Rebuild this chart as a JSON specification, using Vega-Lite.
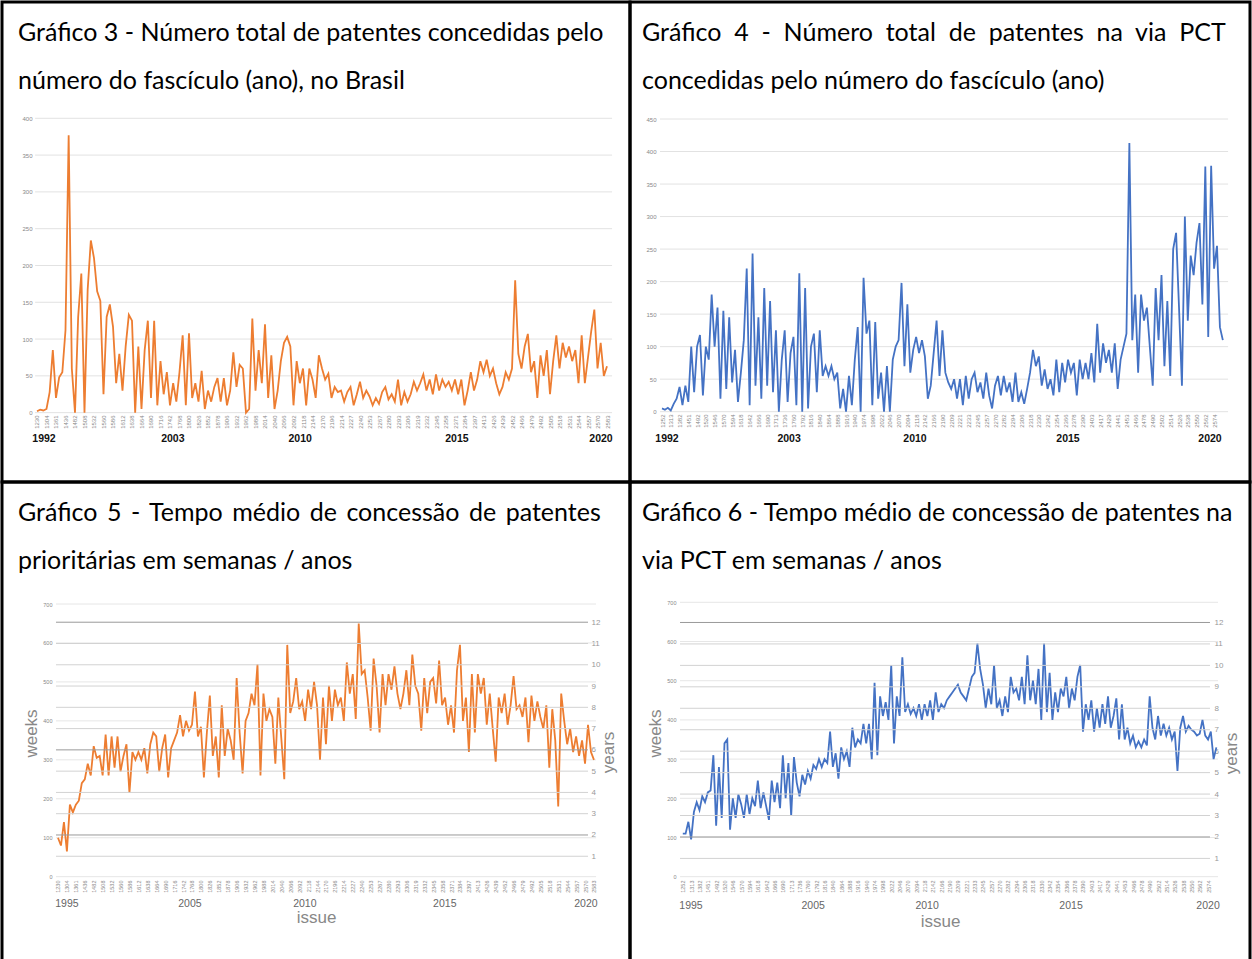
{
"$schema": "https://vega.github.io/schema/vega-lite/v6.json",
"padding": 0,
"background": "white",
"config": {"view": {"stroke": "black", "strokeWidth": 3}, "font": "Liberation Sans"},
"datasets": {
"g400": [{"g":0},{"g":50},{"g":100},{"g":150},{"g":200},{"g":250},{"g":300},{"g":350},{"g":400}],
"g450": [{"g":0},{"g":50},{"g":100},{"g":150},{"g":200},{"g":250},{"g":300},{"g":350},{"g":400},{"g":450}],
"g700": [{"g":0},{"g":100},{"g":200},{"g":300},{"g":400},{"g":500},{"g":600},{"g":700}],
"yrs": [{"yr":1},{"yr":2},{"yr":3},{"yr":4},{"yr":5},{"yr":6},{"yr":7},{"yr":8},{"yr":9},{"yr":10},{"yr":11},{"yr":12}],
"yl1": [{"pos":2.2,"year":"1992"},{"pos":42.9,"year":"2003"},{"pos":83.1,"year":"2010"},{"pos":132.6,"year":"2015"},{"pos":178.1,"year":"2020"}],
"yl2": [{"pos":1.7,"year":"1992"},{"pos":43.5,"year":"2003"},{"pos":86.6,"year":"2010"},{"pos":139,"year":"2015"},{"pos":187.6,"year":"2020"}],
"yl3": [{"pos":3.0,"year":"1995"},{"pos":44.3,"year":"2005"},{"pos":82.9,"year":"2010"},{"pos":129.9,"year":"2015"},{"pos":177.3,"year":"2020"}],
"yl4": [{"pos":2.95,"year":"1995"},{"pos":46.9,"year":"2005"},{"pos":87.9,"year":"2010"},{"pos":139.7,"year":"2015"},{"pos":189,"year":"2020"}],
"c1": [{"i":0,"v":2},{"i":1,"v":4},{"i":2,"v":3},{"i":3,"v":5},{"i":4,"v":28},{"i":5,"v":85},{"i":6,"v":20},{"i":7,"v":48},{"i":8,"v":55},{"i":9,"v":112},
{"i":10,"v":377},{"i":11,"v":60},{"i":12,"v":0},{"i":13,"v":130},{"i":14,"v":189},{"i":15,"v":0},{"i":16,"v":167},{"i":17,"v":234},{"i":18,"v":210},{"i":19,"v":165},
{"i":20,"v":152},{"i":21,"v":25},{"i":22,"v":130},{"i":23,"v":147},{"i":24,"v":117},{"i":25,"v":40},{"i":26,"v":80},{"i":27,"v":30},{"i":28,"v":90},{"i":29,"v":133},
{"i":30,"v":125},{"i":31,"v":0},{"i":32,"v":90},{"i":33,"v":5},{"i":34,"v":85},{"i":35,"v":125},{"i":36,"v":20},{"i":37,"v":125},{"i":38,"v":10},{"i":39,"v":70},
{"i":40,"v":25},{"i":41,"v":55},{"i":42,"v":10},{"i":43,"v":40},{"i":44,"v":15},{"i":45,"v":55},{"i":46,"v":105},{"i":47,"v":10},{"i":48,"v":108},{"i":49,"v":20},
{"i":50,"v":40},{"i":51,"v":15},{"i":52,"v":57},{"i":53,"v":5},{"i":54,"v":30},{"i":55,"v":15},{"i":56,"v":35},{"i":57,"v":47},{"i":58,"v":15},{"i":59,"v":47},
{"i":60,"v":10},{"i":61,"v":30},{"i":62,"v":82},{"i":63,"v":35},{"i":64,"v":65},{"i":65,"v":60},{"i":66,"v":0},{"i":67,"v":5},{"i":68,"v":128},{"i":69,"v":30},
{"i":70,"v":85},{"i":71,"v":40},{"i":72,"v":120},{"i":73,"v":20},{"i":74,"v":78},{"i":75,"v":5},{"i":76,"v":30},{"i":77,"v":70},{"i":78,"v":95},{"i":79,"v":103},
{"i":80,"v":90},{"i":81,"v":10},{"i":82,"v":70},{"i":83,"v":40},{"i":84,"v":60},{"i":85,"v":10},{"i":86,"v":60},{"i":87,"v":45},{"i":88,"v":20},{"i":89,"v":78},
{"i":90,"v":60},{"i":91,"v":45},{"i":92,"v":53},{"i":93,"v":20},{"i":94,"v":35},{"i":95,"v":28},{"i":96,"v":30},{"i":97,"v":15},{"i":98,"v":28},{"i":99,"v":35},
{"i":100,"v":10},{"i":101,"v":25},{"i":102,"v":42},{"i":103,"v":20},{"i":104,"v":30},{"i":105,"v":22},{"i":106,"v":10},{"i":107,"v":20},{"i":108,"v":12},{"i":109,"v":28},
{"i":110,"v":35},{"i":111,"v":18},{"i":112,"v":25},{"i":113,"v":15},{"i":114,"v":45},{"i":115,"v":10},{"i":116,"v":28},{"i":117,"v":15},{"i":118,"v":25},{"i":119,"v":42},
{"i":120,"v":30},{"i":121,"v":40},{"i":122,"v":52},{"i":123,"v":30},{"i":124,"v":45},{"i":125,"v":25},{"i":126,"v":52},{"i":127,"v":30},{"i":128,"v":45},{"i":129,"v":35},
{"i":130,"v":42},{"i":131,"v":30},{"i":132,"v":45},{"i":133,"v":25},{"i":134,"v":45},{"i":135,"v":10},{"i":136,"v":30},{"i":137,"v":55},{"i":138,"v":30},{"i":139,"v":45},
{"i":140,"v":70},{"i":141,"v":55},{"i":142,"v":72},{"i":143,"v":50},{"i":144,"v":60},{"i":145,"v":40},{"i":146,"v":25},{"i":147,"v":35},{"i":148,"v":55},{"i":149,"v":45},
{"i":150,"v":60},{"i":151,"v":180},{"i":152,"v":80},{"i":153,"v":60},{"i":154,"v":90},{"i":155,"v":107},{"i":156,"v":55},{"i":157,"v":70},{"i":158,"v":20},{"i":159,"v":78},
{"i":160,"v":50},{"i":161,"v":85},{"i":162,"v":25},{"i":163,"v":70},{"i":164,"v":105},{"i":165,"v":60},{"i":166,"v":95},{"i":167,"v":75},{"i":168,"v":90},{"i":169,"v":70},
{"i":170,"v":85},{"i":171,"v":40},{"i":172,"v":105},{"i":173,"v":40},{"i":174,"v":75},{"i":175,"v":110},{"i":176,"v":140},{"i":177,"v":60},{"i":178,"v":95},{"i":179,"v":50},
{"i":180,"v":63}],
"c2": [{"i":0,"v":5},{"i":1,"v":3},{"i":2,"v":6},{"i":3,"v":2},{"i":4,"v":12},{"i":5,"v":20},{"i":6,"v":38},{"i":7,"v":10},{"i":8,"v":40},{"i":9,"v":15},
{"i":10,"v":100},{"i":11,"v":30},{"i":12,"v":100},{"i":13,"v":118},{"i":14,"v":25},{"i":15,"v":100},{"i":16,"v":80},{"i":17,"v":180},{"i":18,"v":100},{"i":19,"v":160},
{"i":20,"v":20},{"i":21,"v":155},{"i":22,"v":35},{"i":23,"v":145},{"i":24,"v":45},{"i":25,"v":95},{"i":26,"v":15},{"i":27,"v":60},{"i":28,"v":110},{"i":29,"v":220},
{"i":30,"v":10},{"i":31,"v":243},{"i":32,"v":40},{"i":33,"v":145},{"i":34,"v":20},{"i":35,"v":190},{"i":36,"v":40},{"i":37,"v":170},{"i":38,"v":30},{"i":39,"v":125},
{"i":40,"v":0},{"i":41,"v":80},{"i":42,"v":125},{"i":43,"v":15},{"i":44,"v":90},{"i":45,"v":115},{"i":46,"v":10},{"i":47,"v":213},{"i":48,"v":0},{"i":49,"v":190},
{"i":50,"v":5},{"i":51,"v":100},{"i":52,"v":120},{"i":53,"v":30},{"i":54,"v":125},{"i":55,"v":55},{"i":56,"v":70},{"i":57,"v":55},{"i":58,"v":70},{"i":59,"v":50},
{"i":60,"v":60},{"i":61,"v":5},{"i":62,"v":35},{"i":63,"v":0},{"i":64,"v":55},{"i":65,"v":10},{"i":66,"v":80},{"i":67,"v":130},{"i":68,"v":0},{"i":69,"v":206},
{"i":70,"v":120},{"i":71,"v":140},{"i":72,"v":10},{"i":73,"v":138},{"i":74,"v":20},{"i":75,"v":60},{"i":76,"v":0},{"i":77,"v":70},{"i":78,"v":0},{"i":79,"v":80},
{"i":80,"v":100},{"i":81,"v":110},{"i":82,"v":198},{"i":83,"v":70},{"i":84,"v":165},{"i":85,"v":60},{"i":86,"v":95},{"i":87,"v":115},{"i":88,"v":90},{"i":89,"v":110},
{"i":90,"v":85},{"i":91,"v":20},{"i":92,"v":40},{"i":93,"v":90},{"i":94,"v":140},{"i":95,"v":55},{"i":96,"v":125},{"i":97,"v":60},{"i":98,"v":45},{"i":99,"v":35},
{"i":100,"v":50},{"i":101,"v":20},{"i":102,"v":50},{"i":103,"v":10},{"i":104,"v":55},{"i":105,"v":20},{"i":106,"v":50},{"i":107,"v":60},{"i":108,"v":30},{"i":109,"v":45},
{"i":110,"v":20},{"i":111,"v":60},{"i":112,"v":25},{"i":113,"v":5},{"i":114,"v":40},{"i":115,"v":55},{"i":116,"v":25},{"i":117,"v":55},{"i":118,"v":30},{"i":119,"v":45},
{"i":120,"v":15},{"i":121,"v":60},{"i":122,"v":15},{"i":123,"v":30},{"i":124,"v":12},{"i":125,"v":35},{"i":126,"v":60},{"i":127,"v":95},{"i":128,"v":70},{"i":129,"v":85},
{"i":130,"v":40},{"i":131,"v":65},{"i":132,"v":35},{"i":133,"v":50},{"i":134,"v":25},{"i":135,"v":80},{"i":136,"v":30},{"i":137,"v":75},{"i":138,"v":45},{"i":139,"v":80},
{"i":140,"v":60},{"i":141,"v":75},{"i":142,"v":25},{"i":143,"v":80},{"i":144,"v":50},{"i":145,"v":75},{"i":146,"v":50},{"i":147,"v":90},{"i":148,"v":45},{"i":149,"v":135},
{"i":150,"v":60},{"i":151,"v":105},{"i":152,"v":75},{"i":153,"v":95},{"i":154,"v":60},{"i":155,"v":105},{"i":156,"v":35},{"i":157,"v":80},{"i":158,"v":100},{"i":159,"v":120},
{"i":160,"v":413},{"i":161,"v":110},{"i":162,"v":180},{"i":163,"v":60},{"i":164,"v":180},{"i":165,"v":140},{"i":166,"v":160},{"i":167,"v":100},{"i":168,"v":40},{"i":169,"v":190},
{"i":170,"v":110},{"i":171,"v":210},{"i":172,"v":70},{"i":173,"v":170},{"i":174,"v":55},{"i":175,"v":250},{"i":176,"v":275},{"i":177,"v":160},{"i":178,"v":40},{"i":179,"v":300},
{"i":180,"v":140},{"i":181,"v":240},{"i":182,"v":210},{"i":183,"v":260},{"i":184,"v":290},{"i":185,"v":165},{"i":186,"v":377},{"i":187,"v":115},{"i":188,"v":378},{"i":189,"v":220},
{"i":190,"v":255},{"i":191,"v":130},{"i":192,"v":110}],
"c3": [{"i":0,"v":100},{"i":1,"v":80},{"i":2,"v":140},{"i":3,"v":65},{"i":4,"v":185},{"i":5,"v":165},{"i":6,"v":185},{"i":7,"v":195},{"i":8,"v":240},{"i":9,"v":250},
{"i":10,"v":290},{"i":11,"v":260},{"i":12,"v":335},{"i":13,"v":305},{"i":14,"v":310},{"i":15,"v":260},{"i":16,"v":365},{"i":17,"v":260},{"i":18,"v":360},{"i":19,"v":280},
{"i":20,"v":360},{"i":21,"v":270},{"i":22,"v":310},{"i":23,"v":340},{"i":24,"v":215},{"i":25,"v":320},{"i":26,"v":300},{"i":27,"v":320},{"i":28,"v":300},{"i":29,"v":330},
{"i":30,"v":265},{"i":31,"v":340},{"i":32,"v":370},{"i":33,"v":360},{"i":34,"v":270},{"i":35,"v":330},{"i":36,"v":365},{"i":37,"v":255},{"i":38,"v":330},{"i":39,"v":350},
{"i":40,"v":370},{"i":41,"v":415},{"i":42,"v":360},{"i":43,"v":400},{"i":44,"v":375},{"i":45,"v":390},{"i":46,"v":475},{"i":47,"v":360},{"i":48,"v":385},{"i":49,"v":255},
{"i":50,"v":370},{"i":51,"v":465},{"i":52,"v":310},{"i":53,"v":360},{"i":54,"v":255},{"i":55,"v":440},{"i":56,"v":310},{"i":57,"v":380},{"i":58,"v":350},{"i":59,"v":300},
{"i":60,"v":510},{"i":61,"v":370},{"i":62,"v":265},{"i":63,"v":400},{"i":64,"v":420},{"i":65,"v":470},{"i":66,"v":440},{"i":67,"v":545},{"i":68,"v":260},{"i":69,"v":470},
{"i":70,"v":400},{"i":71,"v":430},{"i":72,"v":410},{"i":73,"v":290},{"i":74,"v":460},{"i":75,"v":355},{"i":76,"v":250},{"i":77,"v":595},{"i":78,"v":420},{"i":79,"v":450},
{"i":80,"v":510},{"i":81,"v":430},{"i":82,"v":450},{"i":83,"v":400},{"i":84,"v":480},{"i":85,"v":430},{"i":86,"v":500},{"i":87,"v":440},{"i":88,"v":300},{"i":89,"v":460},
{"i":90,"v":340},{"i":91,"v":490},{"i":92,"v":400},{"i":93,"v":480},{"i":94,"v":440},{"i":95,"v":460},{"i":96,"v":400},{"i":97,"v":550},{"i":98,"v":470},{"i":99,"v":520},
{"i":100,"v":405},{"i":101,"v":650},{"i":102,"v":520},{"i":103,"v":530},{"i":104,"v":460},{"i":105,"v":375},{"i":106,"v":560},{"i":107,"v":490},{"i":108,"v":370},{"i":109,"v":520},
{"i":110,"v":440},{"i":111,"v":520},{"i":112,"v":480},{"i":113,"v":540},{"i":114,"v":470},{"i":115,"v":430},{"i":116,"v":470},{"i":117,"v":530},{"i":118,"v":440},{"i":119,"v":570},
{"i":120,"v":490},{"i":121,"v":470},{"i":122,"v":375},{"i":123,"v":510},{"i":124,"v":420},{"i":125,"v":500},{"i":126,"v":510},{"i":127,"v":445},{"i":128,"v":555},{"i":129,"v":440},
{"i":130,"v":460},{"i":131,"v":390},{"i":132,"v":440},{"i":133,"v":370},{"i":134,"v":530},{"i":135,"v":595},{"i":136,"v":400},{"i":137,"v":460},{"i":138,"v":320},{"i":139,"v":520},
{"i":140,"v":370},{"i":141,"v":520},{"i":142,"v":470},{"i":143,"v":510},{"i":144,"v":390},{"i":145,"v":470},{"i":146,"v":380},{"i":147,"v":295},{"i":148,"v":460},{"i":149,"v":420},
{"i":150,"v":470},{"i":151,"v":390},{"i":152,"v":440},{"i":153,"v":515},{"i":154,"v":430},{"i":155,"v":440},{"i":156,"v":410},{"i":157,"v":460},{"i":158,"v":345},{"i":159,"v":465},
{"i":160,"v":400},{"i":161,"v":450},{"i":162,"v":410},{"i":163,"v":380},{"i":164,"v":440},{"i":165,"v":280},{"i":166,"v":430},{"i":167,"v":350},{"i":168,"v":180},{"i":169,"v":470},
{"i":170,"v":400},{"i":171,"v":340},{"i":172,"v":380},{"i":173,"v":320},{"i":174,"v":360},{"i":175,"v":310},{"i":176,"v":350},{"i":177,"v":290},{"i":178,"v":390},{"i":179,"v":320},
{"i":180,"v":300}],
"c4": [{"i":0,"v":110},{"i":1,"v":110},{"i":2,"v":140},{"i":3,"v":95},{"i":4,"v":165},{"i":5,"v":190},{"i":6,"v":170},{"i":7,"v":205},{"i":8,"v":190},{"i":9,"v":215},
{"i":10,"v":220},{"i":11,"v":310},{"i":12,"v":130},{"i":13,"v":280},{"i":14,"v":150},{"i":15,"v":340},{"i":16,"v":350},{"i":17,"v":120},{"i":18,"v":200},{"i":19,"v":150},
{"i":20,"v":210},{"i":21,"v":185},{"i":22,"v":150},{"i":23,"v":210},{"i":24,"v":160},{"i":25,"v":200},{"i":26,"v":180},{"i":27,"v":245},{"i":28,"v":175},{"i":29,"v":215},
{"i":30,"v":180},{"i":31,"v":145},{"i":32,"v":245},{"i":33,"v":190},{"i":34,"v":240},{"i":35,"v":175},{"i":36,"v":310},{"i":37,"v":200},{"i":38,"v":290},{"i":39,"v":155},
{"i":40,"v":305},{"i":41,"v":240},{"i":42,"v":205},{"i":43,"v":260},{"i":44,"v":235},{"i":45,"v":270},{"i":46,"v":250},{"i":47,"v":285},{"i":48,"v":275},{"i":49,"v":300},
{"i":50,"v":280},{"i":51,"v":300},{"i":52,"v":290},{"i":53,"v":370},{"i":54,"v":280},{"i":55,"v":315},{"i":56,"v":250},{"i":57,"v":330},{"i":58,"v":300},{"i":59,"v":320},
{"i":60,"v":280},{"i":61,"v":380},{"i":62,"v":330},{"i":63,"v":350},{"i":64,"v":340},{"i":65,"v":390},{"i":66,"v":340},{"i":67,"v":390},{"i":68,"v":300},{"i":69,"v":495},
{"i":70,"v":310},{"i":71,"v":460},{"i":72,"v":410},{"i":73,"v":445},{"i":74,"v":400},{"i":75,"v":540},{"i":76,"v":340},{"i":77,"v":460},{"i":78,"v":410},{"i":79,"v":560},
{"i":80,"v":420},{"i":81,"v":440},{"i":82,"v":415},{"i":83,"v":430},{"i":84,"v":410},{"i":85,"v":440},{"i":86,"v":400},{"i":87,"v":440},{"i":88,"v":410},{"i":89,"v":450},
{"i":90,"v":400},{"i":91,"v":470},{"i":92,"v":420},{"i":93,"v":440},{"i":94,"v":430},{"i":95,"v":450},{"i":96,"v":460},{"i":97,"v":470},{"i":98,"v":480},{"i":99,"v":490},
{"i":100,"v":470},{"i":101,"v":460},{"i":102,"v":450},{"i":103,"v":480},{"i":104,"v":510},{"i":105,"v":520},{"i":106,"v":595},{"i":107,"v":530},{"i":108,"v":490},{"i":109,"v":430},
{"i":110,"v":480},{"i":111,"v":440},{"i":112,"v":540},{"i":113,"v":430},{"i":114,"v":450},{"i":115,"v":410},{"i":116,"v":460},{"i":117,"v":420},{"i":118,"v":510},{"i":119,"v":470},
{"i":120,"v":480},{"i":121,"v":450},{"i":122,"v":510},{"i":123,"v":440},{"i":124,"v":565},{"i":125,"v":450},{"i":126,"v":500},{"i":127,"v":440},{"i":128,"v":530},{"i":129,"v":400},
{"i":130,"v":595},{"i":131,"v":420},{"i":132,"v":520},{"i":133,"v":400},{"i":134,"v":470},{"i":135,"v":420},{"i":136,"v":480},{"i":137,"v":460},{"i":138,"v":510},{"i":139,"v":430},
{"i":140,"v":480},{"i":141,"v":450},{"i":142,"v":510},{"i":143,"v":540},{"i":144,"v":370},{"i":145,"v":440},{"i":146,"v":400},{"i":147,"v":450},{"i":148,"v":370},{"i":149,"v":430},
{"i":150,"v":380},{"i":151,"v":440},{"i":152,"v":390},{"i":153,"v":460},{"i":154,"v":380},{"i":155,"v":410},{"i":156,"v":455},{"i":157,"v":350},{"i":158,"v":440},{"i":159,"v":350},
{"i":160,"v":380},{"i":161,"v":340},{"i":162,"v":360},{"i":163,"v":330},{"i":164,"v":345},{"i":165,"v":330},{"i":166,"v":350},{"i":167,"v":335},{"i":168,"v":460},{"i":169,"v":380},
{"i":170,"v":350},{"i":171,"v":410},{"i":172,"v":360},{"i":173,"v":390},{"i":174,"v":360},{"i":175,"v":380},{"i":176,"v":350},{"i":177,"v":370},{"i":178,"v":270},{"i":179,"v":380},
{"i":180,"v":410},{"i":181,"v":370},{"i":182,"v":385},{"i":183,"v":375},{"i":184,"v":370},{"i":185,"v":360},{"i":186,"v":365},{"i":187,"v":400},{"i":188,"v":360},{"i":189,"v":350},
{"i":190,"v":370},{"i":191,"v":300},{"i":192,"v":330}]
},
"columns": 2,
"spacing": 0,
"bounds": "flush",
"concat": [
{"width": 628, "height": 480,
 "title": {"text": ["Gráfico 3 - Número total de patentes concedidas pelo", "número do fascículo (ano), no Brasil"], "anchor": "start", "frame": "group", "offset": -92, "dx": 16, "font": "Lato", "fontSize": 25, "fontWeight": "normal", "color": "black", "lineHeight": 48},
 "resolve": {"axis": {"x": "independent", "y": "independent"}},
 "layer": [
  {"data": {"name": "g400"}, "mark": {"type": "rule", "color": "#e2e2e2", "strokeWidth": 1},
   "encoding": {
    "y": {"field": "g", "type": "quantitative", "scale": {"domain": [-94.2, 558], "nice": false, "zero": false},
          "axis": {"orient": "left", "values": [0,50,100,150,200,250,300,350,400], "title": null, "grid": false, "ticks": false, "domain": false, "labelFontSize": 6, "labelColor": "#888", "labelPadding": 0, "offset": -30}},
    "x": {"datum": -0.6, "type": "quantitative", "scale": {"domain": [-11.05, 187.26], "nice": false, "zero": false}, "axis": null},
    "x2": {"datum": 181.6}}},
  {"data": {"name": "c1"}, "mark": {"type": "line", "color": "#ED7D31", "strokeWidth": 1.8},
   "encoding": {
    "x": {"field": "i", "type": "quantitative", "scale": {"domain": [-11.05, 187.26], "nice": false, "zero": false},
          "axis": {"orient": "bottom", "values": [0,3,6,9,12,15,18,21,24,27,30,33,36,39,42,45,48,51,54,57,60,63,66,69,72,75,78,81,84,87,90,93,96,99,102,105,108,111,114,117,120,123,126,129,132,135,138,141,144,147,150,153,156,159,162,165,168,171,174,177,180],
                   "labelExpr": "['1230','1304','1361','1436','1482','1508','1532','1560','1586','1612','1638','1664','1690','1716','1742','1768','1800','1826','1852','1878','1906','1932','1962','1988','2014','2040','2066','2092','2118','2144','2170','2196','2214','2227','2240','2253','2267','2280','2293','2306','2319','2332','2345','2358','2371','2384','2397','2413','2426','2439','2452','2466','2479','2492','2505','2518','2531','2544','2557','2570','2583'][round(datum.value/3)]",
                   "labelAngle": 270, "labelFontSize": 6, "labelColor": "#888", "labelPadding": 2, "labelOverlap": false, "labelBound": false, "labelFlush": false, "ticks": false, "domain": false, "grid": false, "title": null, "offset": -69}},
    "y": {"field": "v", "type": "quantitative", "scale": {"domain": [-94.2, 558], "nice": false, "zero": false}, "axis": null}}},
  {"data": {"name": "yl1"}, "mark": {"type": "text", "fontWeight": "bold", "fontSize": 10.5, "color": "#111", "baseline": "middle"},
   "encoding": {
    "x": {"field": "pos", "type": "quantitative", "scale": {"domain": [-11.05, 187.26], "nice": false, "zero": false}, "axis": null},
    "y": {"datum": -36.4, "type": "quantitative", "scale": {"domain": [-94.2, 558], "nice": false, "zero": false}, "axis": null},
    "text": {"field": "year"}}}
 ]},
{"width": 620, "height": 480,
 "title": {"text": ["Gráfico\u00a0 4\u00a0 -\u00a0 Número\u00a0 total\u00a0 de\u00a0 patentes\u00a0 na\u00a0 via\u00a0 PCT", "concedidas pelo número do fascículo (ano)"], "anchor": "start", "frame": "group", "offset": -92, "dx": 12, "font": "Lato", "fontSize": 25, "fontWeight": "normal", "color": "black", "lineHeight": 48},
 "resolve": {"axis": {"x": "independent", "y": "independent"}},
 "layer": [
  {"data": {"name": "g450"}, "mark": {"type": "rule", "color": "#e2e2e2", "strokeWidth": 1},
   "encoding": {
    "y": {"field": "g", "type": "quantitative", "scale": {"domain": [-108.1, 629.9], "nice": false, "zero": false},
          "axis": {"orient": "left", "values": [0,50,100,150,200,250,300,350,400,450], "title": null, "grid": false, "ticks": false, "domain": false, "labelFontSize": 6, "labelColor": "#888", "labelPadding": 0, "offset": -26}},
    "x": {"datum": -0.7, "type": "quantitative", "scale": {"domain": [-10.96, 201.3], "nice": false, "zero": false}, "axis": null},
    "x2": {"datum": 193.8}}},
  {"data": {"name": "c2"}, "mark": {"type": "line", "color": "#4472C4", "strokeWidth": 1.8},
   "encoding": {
    "x": {"field": "i", "type": "quantitative", "scale": {"domain": [-10.96, 201.3], "nice": false, "zero": false},
          "axis": {"orient": "bottom", "values": [0,3,6,9,12,15,18,21,24,27,30,33,36,39,42,45,48,51,54,57,60,63,66,69,72,75,78,81,84,87,90,93,96,99,102,105,108,111,114,117,120,123,126,129,132,135,138,141,144,147,150,153,156,159,162,165,168,171,174,177,180,183,186,189],
                   "labelExpr": "['1252','1313','1382','1451','1492','1520','1546','1570','1594','1618','1642','1666','1690','1713','1736','1760','1792','1816','1840','1864','1888','1916','1940','1974','1998','2022','2046','2070','2094','2118','2142','2166','2190','2209','2221','2233','2245','2257','2270','2282','2294','2306','2318','2330','2342','2354','2366','2378','2390','2403','2417','2429','2441','2453','2466','2478','2490','2502','2514','2526','2538','2550','2562','2574'][round(datum.value/3)]",
                   "labelAngle": 270, "labelFontSize": 6, "labelColor": "#888", "labelPadding": 2, "labelOverlap": false, "labelBound": false, "labelFlush": false, "ticks": false, "domain": false, "grid": false, "title": null, "offset": -70}},
    "y": {"field": "v", "type": "quantitative", "scale": {"domain": [-108.1, 629.9], "nice": false, "zero": false}, "axis": null}}},
  {"data": {"name": "yl2"}, "mark": {"type": "text", "fontWeight": "bold", "fontSize": 10.5, "color": "#111", "baseline": "middle"},
   "encoding": {
    "x": {"field": "pos", "type": "quantitative", "scale": {"domain": [-10.96, 201.3], "nice": false, "zero": false}, "axis": null},
    "y": {"datum": -42, "type": "quantitative", "scale": {"domain": [-108.1, 629.9], "nice": false, "zero": false}, "axis": null},
    "text": {"field": "year"}}}
 ]},
{"width": 628, "height": 480,
 "title": {"text": ["Gráfico\u2009 5\u2009 -\u2009 Tempo\u2009 médio\u2009 de\u2009 concessão\u2009 de\u2009 patentes", "prioritárias em semanas / anos"], "anchor": "start", "frame": "group", "offset": -92, "dx": 16, "font": "Lato", "fontSize": 25, "fontWeight": "normal", "color": "black", "lineHeight": 48},
 "resolve": {"scale": {"y": "independent"}, "axis": {"x": "independent", "y": "independent"}},
 "layer": [
  {"resolve": {"axis": {"x": "independent", "y": "independent"}},
   "layer": [
   {"data": {"name": "g700"}, "mark": {"type": "rule", "color": "#e6e6e6", "strokeWidth": 1},
    "encoding": {
     "y": {"field": "g", "type": "quantitative", "scale": {"domain": [-219, 1013.2], "nice": false, "zero": false},
           "axis": {"orient": "left", "values": [0,100,200,300,400,500,600,700], "title": "weeks", "titleFontSize": 17, "titleColor": "#888", "titleFontWeight": "normal", "titlePadding": 2, "titleY": 251, "grid": false, "ticks": false, "domain": false, "labelFontSize": 5.5, "labelColor": "#888", "labelPadding": 0, "offset": -50}},
     "x": {"datum": -0.67, "type": "quantitative", "scale": {"domain": [-18.8, 192.1], "nice": false, "zero": false}, "axis": null},
     "x2": {"datum": 180.7}}},
   {"data": {"name": "c3"}, "mark": {"type": "line", "color": "#ED7D31", "strokeWidth": 1.8},
    "encoding": {
     "x": {"field": "i", "type": "quantitative", "scale": {"domain": [-18.8, 192.1], "nice": false, "zero": false},
           "axis": {"orient": "bottom", "values": [0,3,6,9,12,15,18,21,24,27,30,33,36,39,42,45,48,51,54,57,60,63,66,69,72,75,78,81,84,87,90,93,96,99,102,105,108,111,114,117,120,123,126,129,132,135,138,141,144,147,150,153,156,159,162,165,168,171,174,177,180],
                    "labelExpr": "['1230','1304','1361','1436','1482','1508','1532','1560','1586','1612','1638','1664','1690','1716','1742','1768','1800','1826','1852','1878','1906','1932','1962','1988','2014','2040','2066','2092','2118','2144','2170','2196','2214','2227','2240','2253','2267','2280','2293','2306','2319','2332','2345','2358','2371','2384','2397','2413','2426','2439','2452','2466','2479','2492','2505','2518','2531','2544','2557','2570','2583'][round(datum.value/3)]",
                    "labelAngle": 270, "labelFontSize": 5.5, "labelColor": "#888", "labelPadding": 3, "labelOverlap": false, "labelBound": false, "labelFlush": false, "ticks": false, "domain": false, "grid": false,
                    "title": "issue", "titleFontSize": 17, "titleColor": "#888", "titleFontWeight": "normal", "titlePadding": 17, "offset": -85}},
     "y": {"field": "v", "type": "quantitative", "scale": {"domain": [-219, 1013.2], "nice": false, "zero": false}, "axis": null}}},
   {"data": {"name": "yl3"}, "mark": {"type": "text", "fontSize": 10.5, "color": "#666", "baseline": "middle"},
    "encoding": {
     "x": {"field": "pos", "type": "quantitative", "scale": {"domain": [-18.8, 192.1], "nice": false, "zero": false}, "axis": null},
     "y": {"datum": -70, "type": "quantitative", "scale": {"domain": [-219, 1013.2], "nice": false, "zero": false}, "axis": null},
     "text": {"field": "year"}}}
  ]},
  {"data": {"name": "yrs"}, "mark": {"type": "rule", "strokeWidth": 1},
   "encoding": {
    "y": {"field": "yr", "type": "quantitative", "scale": {"domain": [-3.97, 18.59], "nice": false, "zero": false},
          "axis": {"orient": "right", "values": [1,2,3,4,5,6,7,8,9,10,11,12], "title": "years", "titleAngle": 270, "titleBaseline": "top", "titleFontSize": 17, "titleColor": "#888", "titleFontWeight": "normal", "titlePadding": 1, "titleY": 270, "grid": false, "ticks": false, "domain": false, "labelFontSize": 8, "labelColor": "#999", "labelPadding": 0, "offset": -39}},
    "x": {"datum": -0.67, "type": "quantitative", "scale": {"domain": [-18.8, 192.1], "nice": false, "zero": false}, "axis": null},
    "x2": {"datum": 178},
    "color": {"condition": {"test": "datum.yr==2||datum.yr==6||datum.yr==12", "value": "#9a9a9a"}, "value": "#d2d2d2"}}}
 ]},
{"width": 620, "height": 480,
 "title": {"text": ["Gráfico 6 - Tempo médio de concessão de patentes na", "via PCT em semanas / anos"], "anchor": "start", "frame": "group", "offset": -92, "dx": 12, "font": "Lato", "fontSize": 25, "fontWeight": "normal", "color": "black", "lineHeight": 48},
 "resolve": {"scale": {"y": "independent"}, "axis": {"x": "independent", "y": "independent"}},
 "layer": [
  {"resolve": {"axis": {"x": "independent", "y": "independent"}},
   "layer": [
   {"data": {"name": "g700"}, "mark": {"type": "rule", "color": "#e6e6e6", "strokeWidth": 1},
    "encoding": {
     "y": {"field": "g", "type": "quantitative", "scale": {"domain": [-217.6, 1006.9], "nice": false, "zero": false},
           "axis": {"orient": "left", "values": [0,100,200,300,400,500,600,700], "title": "weeks", "titleFontSize": 17, "titleColor": "#888", "titleFontWeight": "normal", "titlePadding": 2, "titleY": 251, "grid": false, "ticks": false, "domain": false, "labelFontSize": 5.5, "labelColor": "#888", "labelPadding": 0, "offset": -46}},
     "x": {"datum": -1, "type": "quantitative", "scale": {"domain": [-19.0, 204.1], "nice": false, "zero": false}, "axis": null},
     "x2": {"datum": 192.6}}},
   {"data": {"name": "c4"}, "mark": {"type": "line", "color": "#4472C4", "strokeWidth": 1.8},
    "encoding": {
     "x": {"field": "i", "type": "quantitative", "scale": {"domain": [-19.0, 204.1], "nice": false, "zero": false},
           "axis": {"orient": "bottom", "values": [0,3,6,9,12,15,18,21,24,27,30,33,36,39,42,45,48,51,54,57,60,63,66,69,72,75,78,81,84,87,90,93,96,99,102,105,108,111,114,117,120,123,126,129,132,135,138,141,144,147,150,153,156,159,162,165,168,171,174,177,180,183,186,189],
                    "labelExpr": "['1252','1313','1382','1451','1492','1520','1546','1570','1594','1618','1642','1666','1690','1713','1736','1760','1792','1816','1840','1864','1888','1916','1940','1974','1998','2022','2046','2070','2094','2118','2142','2166','2190','2209','2221','2233','2245','2257','2270','2282','2294','2306','2318','2330','2342','2354','2366','2378','2390','2403','2417','2429','2441','2453','2466','2478','2490','2502','2514','2526','2538','2550','2562','2574'][round(datum.value/3)]",
                    "labelAngle": 270, "labelFontSize": 5.5, "labelColor": "#888", "labelPadding": 3, "labelOverlap": false, "labelBound": false, "labelFlush": false, "ticks": false, "domain": false, "grid": false,
                    "title": "issue", "titleFontSize": 17, "titleColor": "#888", "titleFontWeight": "normal", "titlePadding": 21, "offset": -85}},
     "y": {"field": "v", "type": "quantitative", "scale": {"domain": [-217.6, 1006.9], "nice": false, "zero": false}, "axis": null}}},
   {"data": {"name": "yl4"}, "mark": {"type": "text", "fontSize": 10.5, "color": "#666", "baseline": "middle"},
    "encoding": {
     "x": {"field": "pos", "type": "quantitative", "scale": {"domain": [-19.0, 204.1], "nice": false, "zero": false}, "axis": null},
     "y": {"datum": -74.7, "type": "quantitative", "scale": {"domain": [-217.6, 1006.9], "nice": false, "zero": false}, "axis": null},
     "text": {"field": "year"}}}
  ]},
  {"data": {"name": "yrs"}, "mark": {"type": "rule", "strokeWidth": 1},
   "encoding": {
    "y": {"field": "yr", "type": "quantitative", "scale": {"domain": [-3.83, 18.55], "nice": false, "zero": false},
          "axis": {"orient": "right", "values": [1,2,3,4,5,6,7,8,9,10,11,12], "title": "years", "titleAngle": 270, "titleBaseline": "top", "titleFontSize": 17, "titleColor": "#888", "titleFontWeight": "normal", "titlePadding": 1, "titleY": 271, "grid": false, "ticks": false, "domain": false, "labelFontSize": 8, "labelColor": "#999", "labelPadding": 0, "offset": -36}},
    "x": {"datum": -1, "type": "quantitative", "scale": {"domain": [-19.0, 204.1], "nice": false, "zero": false}, "axis": null},
    "x2": {"datum": 189.7},
    "color": {"condition": {"test": "datum.yr==2||datum.yr==12", "value": "#9a9a9a"}, "value": "#d2d2d2"}}}
 ]}
]
}
